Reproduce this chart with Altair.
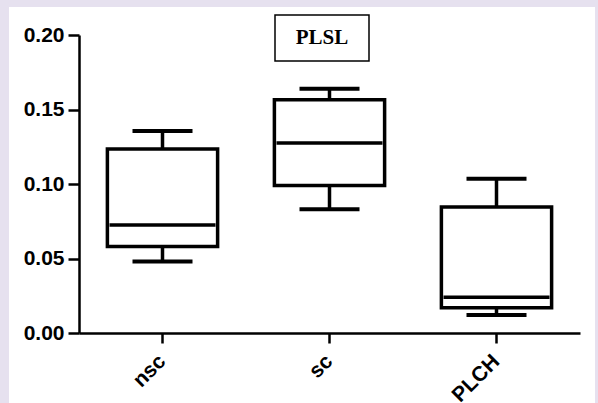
import altair as alt
import pandas as pd

groups = ["nsc", "sc", "PLCH"]
whisker_low = [0.048, 0.083, 0.012]
q1 = [0.058, 0.099, 0.017]
median = [0.0725, 0.1275, 0.024]
q3 = [0.1235, 0.1565, 0.0846]
whisker_high = [0.1355, 0.164, 0.1035]
y_ticks = [0.0, 0.05, 0.10, 0.15, 0.20]
title_text = "PLSL"

df = pd.DataFrame({
    "group": groups,
    "lo": whisker_low,
    "q1": q1,
    "med": median,
    "q3": q3,
    "hi": whisker_high,
})
one = pd.DataFrame({"a": [0]})

LBL = "Liberation Sans"

x_enc = alt.X(
    "group:N",
    sort=groups,
    title=None,
    scale=alt.Scale(paddingInner=0.34, paddingOuter=0.17),
    axis=alt.Axis(
        labelAngle=315, labelAlign="right", labelBaseline="middle",
        labelFont=LBL, labelFontWeight="bold", labelFontSize=21,
        labelColor="black", labelPadding=15, tickSize=10, tickWidth=2.5,
        tickColor="black", domainColor="black", domainWidth=2.5, zindex=1,
    ),
)
y_enc = alt.Y(
    "lo:Q",
    title=None,
    scale=alt.Scale(domain=[0, 0.2], nice=False, zero=True),
    axis=alt.Axis(
        values=y_ticks, format=".2f",
        labelFont=LBL, labelFontWeight="bold", labelFontSize=21,
        labelColor="black", labelPadding=4, tickSize=11, tickWidth=2.5,
        tickColor="black", domainColor="black", domainWidth=2.5, zindex=1,
    ),
)

bg = alt.Chart(one).mark_rect(fill="white", stroke=None).encode(
    x=alt.value(-70), x2=alt.value(516), y=alt.value(-28), y2=alt.value(368)
)

base = alt.Chart(df)

whisk = base.mark_rule(color="black", strokeWidth=3.5).encode(
    x=x_enc, y=y_enc, y2="hi:Q"
)
box = base.mark_bar(fill="white", stroke="black", strokeWidth=3.5).encode(
    x=x_enc, y=alt.Y("q1:Q"), y2="q3:Q"
)
med = base.mark_tick(color="black", opacity=1, thickness=3.5, size=106, orient="horizontal").encode(
    x=x_enc, y=alt.Y("med:Q")
)
cap_hi = base.mark_tick(color="black", opacity=1, thickness=4, size=60, orient="horizontal").encode(
    x=x_enc, y=alt.Y("hi:Q")
)
cap_lo = base.mark_tick(color="black", opacity=1, thickness=4, size=60, orient="horizontal").encode(
    x=x_enc, y=alt.Y("lo:Q")
)

tbox = alt.Chart(one).mark_rect(fill="white", stroke="black", strokeWidth=1.5).encode(
    x=alt.value(196), x2=alt.value(290), y=alt.value(-20), y2=alt.value(26)
)
ttext = alt.Chart(one).mark_text(
    text=title_text, font="Liberation Serif", fontWeight="bold", fontSize=21,
    color="black", align="center", baseline="middle"
).encode(x=alt.value(243), y=alt.value(3))

chart = alt.layer(bg, whisk, box, med, cap_hi, cap_lo, tbox, ttext).properties(
    width=501, height=298,
    background="#e6e1ef",
    padding={"left": 79, "top": 35, "right": 18, "bottom": 70},
    autosize=alt.AutoSizeParams(type="none"),
).configure_view(stroke=None).configure_axis(grid=False)

chart.save("out.html", embed_options={"renderer": "svg", "actions": False})
